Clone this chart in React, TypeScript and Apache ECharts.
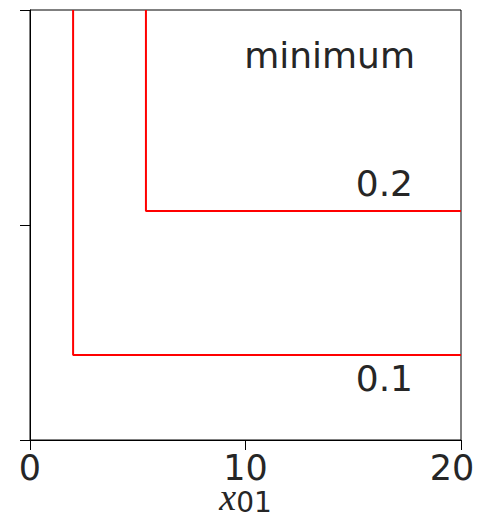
import React, { useEffect, useRef } from "react";
import * as echarts from "echarts";

const xTicks = [0, 10, 20];
const series01: [number, number][] = [[2.0, 2], [2.0, 0.395], [20, 0.395]];
const series02: [number, number][] = [[5.38, 2], [5.38, 1.065], [20, 1.065]];
const seriesLabels = ["0.1", "0.2"];
const title = "minimum";

export default function App() {
  const ref = useRef<HTMLDivElement>(null);
  useEffect(() => {
    if (!ref.current) return;
    const chart = echarts.init(ref.current, null, { renderer: "svg" });
    const font = "DejaVu Sans";
    chart.setOption({
      animation: false,
      grid: {
        left: 30, right: 21, top: 10, bottom: 77,
        outerBoundsMode: "none",
        containLabel: false,
        show: true, borderColor: "#000", borderWidth: 1, backgroundColor: "transparent",
      },
      xAxis: {
        type: "value", min: xTicks[0], max: xTicks[2], interval: 10,
        axisLine: { show: true, lineStyle: { color: "#000", width: 1 } },
        axisTick: { show: true, length: 10, lineStyle: { color: "#000" } },
        axisLabel: {
          fontSize: 35, fontFamily: font, color: "#262626", margin: 10,
          formatter: (v: number) => (v === xTicks[2] ? `{e|${v}}` : `${v}`),
          rich: { e: { fontSize: 35, fontFamily: font, color: "#262626", padding: [0, 18, 0, 0] } },
        },
        splitLine: { show: false },
        name: "{x|x}{s|01}",
        nameLocation: "middle",
        nameGap: 42,
        nameMoveOverlap: false,
        nameTextStyle: {
          verticalAlign: "top",
          rich: {
            x: { fontFamily: "Liberation Serif", fontStyle: "italic", fontSize: 38, lineHeight: 30, color: "#262626" },
            s: { fontFamily: font, fontSize: 28, lineHeight: 24, color: "#262626", padding: [10, 0, 0, 0] },
          },
        },
      },
      yAxis: {
        type: "value", min: 0, max: 2, interval: 1,
        axisLine: { show: true, lineStyle: { color: "#000", width: 1 } },
        axisTick: { show: true, length: 10, lineStyle: { color: "#000" } },
        axisLabel: { show: false },
        splitLine: { show: false },
      },
      series: [
        { type: "line", data: series01, symbol: "none", lineStyle: { color: "#ff0000", width: 2 } },
        { type: "line", data: series02, symbol: "none", lineStyle: { color: "#ff0000", width: 2 } },
      ],
      graphic: [
        { type: "text", x: 415, y: 55, style: { text: title, font: `36px "${font}"`, fill: "#262626", textAlign: "right", textVerticalAlign: "middle" } },
        { type: "text", x: 413, y: 183, style: { text: seriesLabels[1], font: `36px "${font}"`, fill: "#262626", textAlign: "right", textVerticalAlign: "middle" } },
        { type: "text", x: 413, y: 378, style: { text: seriesLabels[0], font: `36px "${font}"`, fill: "#262626", textAlign: "right", textVerticalAlign: "middle" } },
      ],
    });
    return () => chart.dispose();
  }, []);
  return <div ref={ref} style={{ width: 482, height: 517, position: "absolute", left: 0, top: 0 }} />;
}
